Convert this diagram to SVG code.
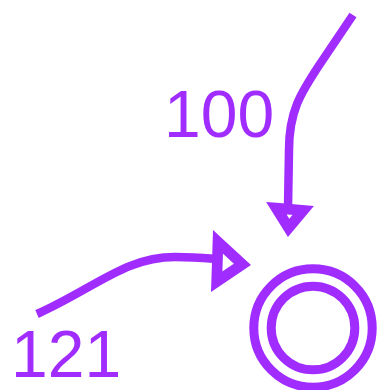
<svg xmlns="http://www.w3.org/2000/svg" width="385" height="390" viewBox="0 0 385 390">
<style>
.ln{fill:none;stroke:#a02cff;stroke-width:8.5}
.hd{fill:none;stroke:#a02cff;stroke-width:10.7;stroke-linejoin:miter;stroke-miterlimit:10}
.lbl{font-family:"Liberation Sans",Arial,sans-serif;font-size:66px;fill:#a02cff}
.ring{fill:none;stroke:#a02cff;stroke-width:9}
</style>
<rect width="385" height="390" fill="#ffffff"/>
<g id="connectors">
<path class="ln" d="M353,15 L320,64 C300,94 289,112 289,150 L288,208"/>
<polygon class="hd" points="276.3,208.2 303.2,210.5 288.6,227.9"/>
<path class="ln" d="M37,314 C95,288 125,257 175,257 C195,257 205,258 218,259"/>
<polygon class="hd" points="218,241.9 242.4,264.4 216.7,281.7"/>
</g>
<g id="label100"><text class="lbl" x="164" y="137">100</text></g>
<g id="label121"><text class="lbl" x="11" y="377">121</text></g>
<g id="final-state">
<circle class="ring" cx="313" cy="328" r="59.2"/>
<circle class="ring" cx="313" cy="328" r="41.8"/>
</g>
</svg>
